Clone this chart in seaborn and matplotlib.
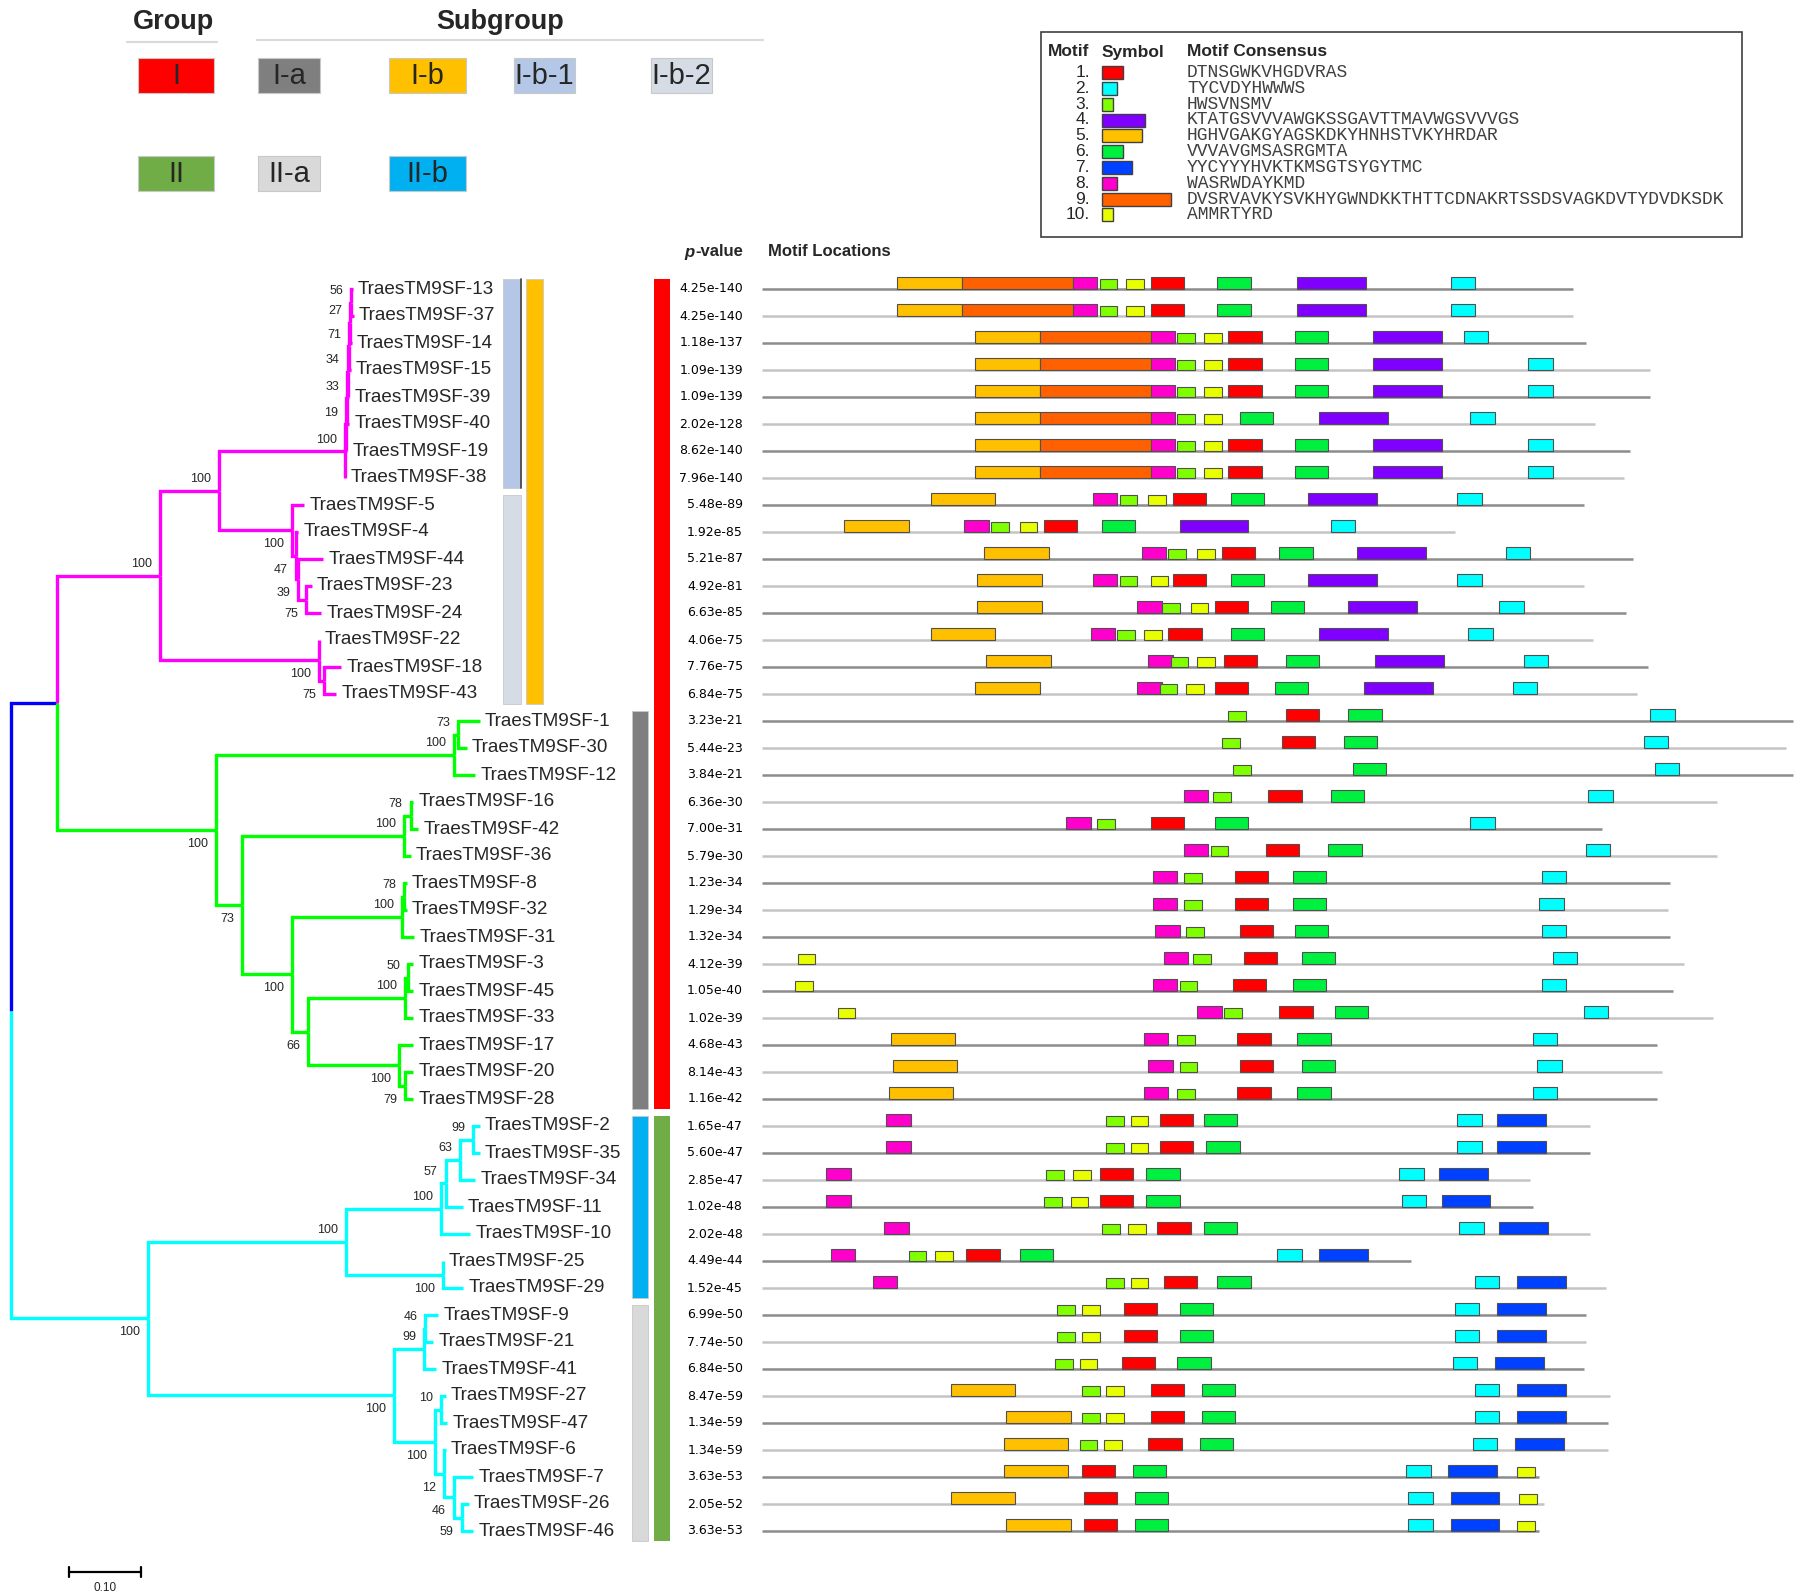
import matplotlib
matplotlib.use("Agg")
import matplotlib.pyplot as plt
from matplotlib import font_manager
from matplotlib.patches import Rectangle
import seaborn as sns

P = "TraesTM9SF-"

# tree: parent -> children (top to bottom) with branch lengths
TREE_CHILDREN = {
    "root": [("A", 0.0646), ("S", 0.1912)],
    "A": [("B", 0.1435), ("I", 0.2218)],
    "B": [("B1", 0.0830), ("B2", 0.2224)],
    "B1": [("C", 0.1755), ("D", 0.1020)],
    "C": [("C1", 0.0014), (P + "38", 0.0007)],
    "C1": [("C2", 0.0014), (P + "19", 0.0014)],
    "C2": [("C3", 0.0014), (P + "40", 0.0034)],
    "C3": [("C4", 0.0014), (P + "39", 0.0014)],
    "C4": [("C5", 0.0014), (P + "15", 0.0027)],
    "C5": [("C6", 0.0014), (P + "14", 0.0027)],
    "C6": [(P + "13", 0.0027), (P + "37", 0.0041)],
    "D": [(P + "5", 0.0170), ("E", 0.0054)],
    "E": [(P + "4", 0.0027), ("F", 0.0027)],
    "F": [(P + "44", 0.0347), ("G", 0.0109)],
    "G": [(P + "23", 0.0082), (P + "24", 0.0218)],
    "B2": [(P + "22", 0.0), ("H", 0.0068)],
    "H": [(P + "18", 0.0238), (P + "43", 0.0170)],
    "I": [("J", 0.3327), ("K", 0.0367)],
    "J": [("J1", 0.0054), (P + "12", 0.0293)],
    "J1": [(P + "1", 0.0306), (P + "30", 0.0122)],
    "K": [("L", 0.2265), ("M", 0.0701)],
    "L": [("L1", 0.0088), (P + "36", 0.0088)],
    "L1": [(P + "16", 0.0034), (P + "42", 0.0102)],
    "M": [("N", 0.1531), ("O", 0.0218)],
    "N": [("N1", 0.0034), (P + "31", 0.0170)],
    "N1": [(P + "8", 0.0034), (P + "32", 0.0034)],
    "O": [("Pn", 0.1361), ("Q", 0.1279)],
    "Pn": [("P1", 0.0041), (P + "33", 0.0109)],
    "P1": [(P + "3", 0.0068), (P + "45", 0.0068)],
    "Q": [(P + "17", 0.0190), ("Q1", 0.0082)],
    "Q1": [(P + "20", 0.0109), (P + "28", 0.0109)],
    "S": [("T", 0.2769), ("U", 0.3435)],
    "T": [("V", 0.1333), ("W", 0.1361)],
    "V": [("V1", 0.0061), (P + "10", 0.0401)],
    "V1": [("V2", 0.0204), (P + "11", 0.0238)],
    "V2": [("V3", 0.0184), (P + "34", 0.0204)],
    "V3": [(P + "2", 0.0088), (P + "35", 0.0088)],
    "W": [(P + "25", 0.0), (P + "29", 0.0272)],
    "U": [("X", 0.0422), ("Y", 0.0578)],
    "X": [("X1", 0.0020), (P + "41", 0.0170)],
    "X1": [(P + "9", 0.0184), (P + "21", 0.0116)],
    "Y": [("Z", 0.0082), ("Z2", 0.0129)],
    "Z": [(P + "27", 0.0068), (P + "47", 0.0088)],
    "Z2": [(P + "6", 0.0020), ("Z3", 0.0136)],
    "Z3": [(P + "7", 0.0272), ("Z4", 0.0109)],
    "Z4": [(P + "26", 0.0095), (P + "46", 0.0163)],
}

BOOTSTRAP = {
    "B": 100, "B1": 100, "C": 100, "C1": 19, "C2": 33, "C3": 34, "C4": 71,
    "C5": 27, "C6": 56, "D": 100, "E": 47, "F": 39, "G": 75, "B2": 100,
    "H": 75, "I": 100, "J": 100, "J1": 73, "K": 73, "L": 100, "L1": 78,
    "M": 100, "N": 100, "N1": 78, "O": 66, "Pn": 100, "P1": 50, "Q": 100,
    "Q1": 79, "S": 100, "T": 100, "V": 100, "V1": 57, "V2": 63, "V3": 99,
    "W": 100, "U": 100, "X": 99, "X1": 46, "Y": 100, "Z": 10, "Z2": 12,
    "Z3": 46, "Z4": 59,
}

CLADE_COLORS = {"A": "#0000FF", "B": "#FF00FF", "I": "#00FF00", "S": "#00FFFF"}

P_VALUES = {
    "13": 4.25e-140, "37": 4.25e-140, "14": 1.18e-137, "15": 1.09e-139,
    "39": 1.09e-139, "40": 2.02e-128, "19": 8.62e-140, "38": 7.96e-140,
    "5": 5.48e-89, "4": 1.92e-85, "44": 5.21e-87, "23": 4.92e-81,
    "24": 6.63e-85, "22": 4.06e-75, "18": 7.76e-75, "43": 6.84e-75,
    "1": 3.23e-21, "30": 5.44e-23, "12": 3.84e-21, "16": 6.36e-30,
    "42": 7.00e-31, "36": 5.79e-30, "8": 1.23e-34, "32": 1.29e-34,
    "31": 1.32e-34, "3": 4.12e-39, "45": 1.05e-40, "33": 1.02e-39,
    "17": 4.68e-43, "20": 8.14e-43, "28": 1.16e-42, "2": 1.65e-47,
    "35": 5.60e-47, "34": 2.85e-47, "11": 1.02e-48, "10": 2.02e-48,
    "25": 4.49e-44, "29": 1.52e-45, "9": 6.99e-50, "21": 7.74e-50,
    "41": 6.84e-50, "27": 8.47e-59, "47": 1.34e-59, "6": 1.34e-59,
    "7": 3.63e-53, "26": 2.05e-52, "46": 3.63e-53,
}

MOTIF_CONSENSUS = [
    "DTNSGWKVHGDVRAS", "TYCVDYHWWWS", "HWSVNSMV", "KTATGSVVVAWGKSSGAVTTMAVWGSVVVGS",
    "HGHVGAKGYAGSKDKYHNHSTVKYHRDAR", "VVVAVGMSASRGMTA", "YYCYYYHVKTKMSGTSYGYTMC",
    "WASRWDAYKMD", "DVSRVAVKYSVKHYGWNDKKTHTTCDNAKRTSSDSVAGKDVTYDVDKSDK", "AMMRTYRD",
]
MOTIF_COLORS = ["#FF0000", "#00FFFF", "#80FF00", "#8000FF", "#FFC000",
                "#00F040", "#0040FF", "#FF00CC", "#FF6000", "#E8FF00"]
MOTIF_HEIGHT = [0.46, 0.46, 0.36, 0.46, 0.46, 0.44, 0.46, 0.44, 0.46, 0.38]

# protein length (aa) and motif (number, start) per gene
SEQ_LEN = {
    "13": 365, "37": 365, "14": 371, "15": 400, "39": 400, "40": 375, "19": 391,
    "38": 388, "5": 370, "4": 312, "44": 392, "23": 370, "24": 389, "22": 374,
    "18": 399, "43": 394, "1": 464, "30": 461, "12": 464, "16": 430, "42": 378,
    "36": 430, "8": 409, "32": 408, "31": 409, "3": 415, "45": 410, "33": 428,
    "17": 403, "20": 405, "28": 403, "2": 373, "35": 373, "34": 346, "11": 347,
    "10": 373, "25": 292, "29": 380, "9": 371, "21": 371, "41": 370, "27": 382,
    "47": 381, "6": 381, "7": 350, "26": 352, "46": 350,
}
MOTIF_SITES = {
    "13": [(5, 61), (9, 90), (8, 140), (3, 152), (10, 164), (1, 175), (6, 205), (4, 241), (2, 310)],
    "37": [(5, 61), (9, 90), (8, 140), (3, 152), (10, 164), (1, 175), (6, 205), (4, 241), (2, 310)],
    "14": [(5, 96), (9, 125), (8, 175), (3, 187), (10, 199), (1, 210), (6, 240), (4, 275), (2, 316)],
    "15": [(5, 96), (9, 125), (8, 175), (3, 187), (10, 199), (1, 210), (6, 240), (4, 275), (2, 345)],
    "39": [(5, 96), (9, 125), (8, 175), (3, 187), (10, 199), (1, 210), (6, 240), (4, 275), (2, 345)],
    "40": [(5, 96), (9, 125), (8, 175), (3, 187), (10, 199), (6, 215), (4, 251), (2, 319)],
    "19": [(5, 96), (9, 125), (8, 175), (3, 187), (10, 199), (1, 210), (6, 240), (4, 275), (2, 345)],
    "38": [(5, 96), (9, 125), (8, 175), (3, 187), (10, 199), (1, 210), (6, 240), (4, 275), (2, 345)],
    "5": [(5, 76), (8, 149), (3, 161), (10, 174), (1, 185), (6, 211), (4, 246), (2, 313)],
    "4": [(5, 37), (8, 91), (3, 103), (10, 116), (1, 127), (6, 153), (4, 188), (2, 256)],
    "44": [(5, 100), (8, 171), (3, 183), (10, 196), (1, 207), (6, 233), (4, 268), (2, 335)],
    "23": [(5, 97), (8, 149), (3, 161), (10, 175), (1, 185), (6, 211), (4, 246), (2, 313)],
    "24": [(5, 97), (8, 169), (3, 180), (10, 193), (1, 204), (6, 229), (4, 264), (2, 332)],
    "22": [(5, 76), (8, 148), (3, 160), (10, 172), (1, 183), (6, 211), (4, 251), (2, 318)],
    "18": [(5, 101), (8, 174), (3, 184), (10, 196), (1, 208), (6, 236), (4, 276), (2, 343)],
    "43": [(5, 96), (8, 169), (3, 179), (10, 191), (1, 204), (6, 231), (4, 271), (2, 338)],
    "1": [(3, 210), (1, 236), (6, 264), (2, 400)],
    "30": [(3, 207), (1, 234), (6, 262), (2, 397)],
    "12": [(3, 212), (6, 266), (2, 402)],
    "16": [(8, 190), (3, 203), (1, 228), (6, 256), (2, 372)],
    "42": [(8, 137), (3, 151), (1, 175), (6, 204), (2, 319)],
    "36": [(8, 190), (3, 202), (1, 227), (6, 255), (2, 371)],
    "8": [(8, 176), (3, 190), (1, 213), (6, 239), (2, 351)],
    "32": [(8, 176), (3, 190), (1, 213), (6, 239), (2, 350)],
    "31": [(8, 177), (3, 191), (1, 215), (6, 240), (2, 351)],
    "3": [(10, 16), (8, 181), (3, 194), (1, 217), (6, 243), (2, 356)],
    "45": [(10, 15), (8, 176), (3, 188), (1, 212), (6, 239), (2, 351)],
    "33": [(10, 34), (8, 196), (3, 208), (1, 233), (6, 258), (2, 370)],
    "17": [(5, 58), (8, 172), (3, 187), (1, 214), (6, 241), (2, 347)],
    "20": [(5, 59), (8, 174), (3, 188), (1, 215), (6, 243), (2, 349)],
    "28": [(5, 57), (8, 172), (3, 187), (1, 214), (6, 241), (2, 347)],
    "2": [(8, 56), (3, 155), (10, 166), (1, 179), (6, 199), (2, 313), (7, 331)],
    "35": [(8, 56), (3, 155), (10, 166), (1, 179), (6, 200), (2, 313), (7, 331)],
    "34": [(8, 29), (3, 128), (10, 140), (1, 152), (6, 173), (2, 287), (7, 305)],
    "11": [(8, 29), (3, 127), (10, 139), (1, 152), (6, 173), (2, 288), (7, 306)],
    "10": [(8, 55), (3, 153), (10, 165), (1, 178), (6, 199), (2, 314), (7, 332)],
    "25": [(8, 31), (3, 66), (10, 78), (1, 92), (6, 116), (2, 232), (7, 251)],
    "29": [(8, 50), (3, 155), (10, 166), (1, 181), (6, 205), (2, 321), (7, 340)],
    "9": [(3, 133), (10, 144), (1, 163), (6, 188), (2, 312), (7, 331)],
    "21": [(3, 133), (10, 144), (1, 163), (6, 188), (2, 312), (7, 331)],
    "41": [(3, 132), (10, 143), (1, 162), (6, 187), (2, 311), (7, 330)],
    "27": [(5, 85), (3, 144), (10, 155), (1, 175), (6, 198), (2, 321), (7, 340)],
    "47": [(5, 110), (3, 144), (10, 155), (1, 175), (6, 198), (2, 321), (7, 340)],
    "6": [(5, 109), (3, 143), (10, 154), (1, 174), (6, 197), (2, 320), (7, 339)],
    "7": [(5, 109), (1, 144), (6, 167), (2, 290), (7, 309), (10, 340)],
    "26": [(5, 85), (1, 145), (6, 168), (2, 291), (7, 310), (10, 341)],
    "46": [(5, 110), (1, 145), (6, 168), (2, 291), (7, 310), (10, 340)],
}

# (label, colour, first gene, last gene)
SUBGROUPS = [("I-b-1", "#B4C7E7", "13", "38"), ("I-b-2", "#D6DCE5", "5", "43"),
             ("I-b", "#FFC000", "13", "43"), ("I-a", "#7F7F7F", "1", "28"),
             ("II-b", "#00B0F0", "2", "29"), ("II-a", "#D9D9D9", "9", "46")]
GROUPS = [("I", "#FF0000", "13", "28"), ("II", "#70AD47", "2", "46")]

# ---------------- layout constants (pixels) ----------------
W, H = 1797, 1593
ROW0, ROWH = 289, 27.0
TREE_X0, TREE_SCALE = 10.7, 716.0
MOTIF_X0, MOTIF_SCALE = 762.0, 2.221

sns.set_theme(style="white")
names = {f.name for f in font_manager.fontManager.ttflist}
NARROW = "Liberation Sans Narrow" if "Liberation Sans Narrow" in names else "Liberation Sans"
plt.rcParams["font.family"] = ["Liberation Sans", "DejaVu Sans"]

fig = plt.figure(figsize=(W / 100, H / 100), dpi=100)
ylim_rows = ((H - ROW0) / ROWH, -ROW0 / ROWH)

ax_px = fig.add_axes([0, 0, 1, 1])
ax_px.set_xlim(0, W)
ax_px.set_ylim(H, 0)
ax_body = fig.add_axes([0, 0, 1, 1])
ax_body.set_xlim(0, W)
ax_body.set_ylim(*ylim_rows)
ax_tree = fig.add_axes([0, 0, 1, 1])
ax_tree.set_xlim(-TREE_X0 / TREE_SCALE, (W - TREE_X0) / TREE_SCALE)
ax_tree.set_ylim(*ylim_rows)
ax_motif = fig.add_axes([0, 0, 1, 1])
ax_motif.set_xlim(-MOTIF_X0 / MOTIF_SCALE, (W - MOTIF_X0) / MOTIF_SCALE)
ax_motif.set_ylim(*ylim_rows)
for a in (ax_px, ax_body, ax_tree, ax_motif):
    a.axis("off")
    a.patch.set_alpha(0)

# ---------------- tree ----------------
pos, tips, parent_of = {}, [], {}


def layout(node, depth):
    if node not in TREE_CHILDREN:
        pos[node] = (depth, len(tips))
        tips.append(node)
        return len(tips) - 1
    ys = []
    for child, bl in TREE_CHILDREN[node]:
        parent_of[child] = node
        ys.append(layout(child, depth + bl))
    y = (ys[0] + ys[-1]) / 2
    pos[node] = (depth, y)
    return y


layout("root", 0.0)

colors = {}


def paint(node, col):
    col = CLADE_COLORS.get(node, col)
    colors[node] = col
    for child, _ in TREE_CHILDREN.get(node, []):
        paint(child, col)


paint("root", "#0000FF")

for par, kids in TREE_CHILDREN.items():
    px, py = pos[par]
    for child, _ in kids:
        cx, cy = pos[child]
        ax_tree.plot([px, px, cx], [py, cy, cy], color=colors[child], lw=2.4,
                     solid_joinstyle="miter", solid_capstyle="butt", zorder=2)

for name in tips:
    cx, cy = pos[name]
    ax_tree.text(cx + 0.0075, cy, name, ha="left", va="center", fontsize=13.6, zorder=3)

for node, val in BOOTSTRAP.items():
    cx, cy = pos[node]
    upper = TREE_CHILDREN[parent_of[node]][0][0] == node
    ty = cy - 0.42 if upper else cy + 0.52
    ax_tree.text(cx - 0.011, ty, str(val), ha="right", va="center", fontsize=9,
                 family=NARROW, zorder=3)

# scale bar
sb_x = (69 - TREE_X0) / TREE_SCALE
sb_y = (1572 - ROW0) / ROWH
ax_tree.plot([sb_x, sb_x + 0.1], [sb_y, sb_y], color="black", lw=1.6)
for xx in (sb_x, sb_x + 0.1):
    ax_tree.plot([xx, xx], [sb_y - 0.2, sb_y + 0.2], color="black", lw=1.6)
ax_tree.text(sb_x + 0.05, sb_y + 0.6, "0.10", ha="center", va="center", fontsize=8.5, family=NARROW)

row_of = {name.replace(P, ""): i for i, name in enumerate(tips)}

# ---------------- subgroup / group bars ----------------
BAR_X = {"I-b-1": (503, 521), "I-b-2": (503, 521), "I-b": (526, 543),
         "I-a": (632, 648), "II-b": (632, 648), "II-a": (632, 648)}
for lab, col, g0, g1 in SUBGROUPS:
    x0, x1 = BAR_X[lab]
    r0, r1 = row_of[g0] - 0.38, row_of[g1] + 0.38
    ax_body.add_patch(Rectangle((x0, r0), x1 - x0, r1 - r0, facecolor=col,
                                edgecolor="#C8C8C8", lw=0.6))
    if lab == "I-b-1":
        ax_body.plot([x1, x1], [r0, r1], color="#404040", lw=1.2)
for lab, col, g0, g1 in GROUPS:
    r0, r1 = row_of[g0] - 0.38, row_of[g1] + 0.38
    ax_body.add_patch(Rectangle((654, r0), 16, r1 - r0, facecolor=col,
                                edgecolor="none"))

# p-values
for g, r in row_of.items():
    ax_body.text(743, r, f"{P_VALUES[g]:.2e}", ha="right", va="center",
                 fontsize=9, family="DejaVu Sans", color="black")

# ---------------- motif locations ----------------
for g, r in row_of.items():
    lc = "#8C8C8C" if r % 2 == 0 else "#C4C4C4"
    ax_motif.plot([0, SEQ_LEN[g]], [r, r], color=lc, lw=1.8, zorder=1,
                  solid_capstyle="butt")
    for m, start in MOTIF_SITES[g]:
        h = MOTIF_HEIGHT[m - 1]
        ax_motif.add_patch(Rectangle((start, r - h), len(MOTIF_CONSENSUS[m - 1]), h,
                                     facecolor=MOTIF_COLORS[m - 1], edgecolor="#505050",
                                     lw=0.8, zorder=2))

# column headers
ax_px.text(684, 252, "p", fontsize=12, fontweight="bold", style="italic", ha="left", va="center")
ax_px.text(695, 252, "-value", fontsize=12, fontweight="bold", ha="left", va="center")
ax_px.text(768, 252, "Motif Locations", fontsize=12, fontweight="bold", ha="left", va="center")

# ---------------- group legend ----------------
ax_px.text(174, 22, "Group", fontsize=19.5, fontweight="bold", ha="center", va="center")
ax_px.text(500, 22, "Subgroup", fontsize=19.5, fontweight="bold", ha="center", va="center")
ax_px.plot([127, 217], [42, 42], color="#D9D9D9", lw=1.5)
ax_px.plot([257, 763], [40, 40], color="#D9D9D9", lw=1.5)

LEGEND_BOXES = {"I": (138, 214, 0), "I-a": (258, 320, 0), "I-b": (389, 466, 0),
                "I-b-1": (514, 575, 0), "I-b-2": (651, 712, 0),
                "II": (138, 214, 1), "II-a": (258, 320, 1), "II-b": (389, 466, 1)}
legend_colors = {lab: col for lab, col, _, _ in SUBGROUPS + GROUPS}
for lab, (x0, x1, row) in LEGEND_BOXES.items():
    y0 = 58 if row == 0 else 156
    ax_px.add_patch(Rectangle((x0, y0), x1 - x0, 35, facecolor=legend_colors[lab],
                              edgecolor="#C8C8C8", lw=0.8))
    ax_px.text((x0 + x1) / 2, y0 + 18, lab, fontsize=21, family=NARROW,
               ha="center", va="center")

# ---------------- motif legend ----------------
ax_px.add_patch(Rectangle((1041, 32), 701, 205, facecolor="none", edgecolor="#404040", lw=1.2))
ax_px.text(1048, 52, "Motif", fontsize=12.5, fontweight="bold", ha="left", va="center")
ax_px.text(1102, 52, "Symbol", fontsize=12.5, fontweight="bold", ha="left", va="center")
ax_px.text(1187, 52, "Motif Consensus", fontsize=12.5, fontweight="bold", ha="left", va="center")
for k, cons in enumerate(MOTIF_CONSENSUS):
    y = 72.6 + 15.8 * k
    ax_px.text(1090, y, f"{k + 1}.", fontsize=12.5, ha="right", va="center", family=NARROW)
    ax_px.add_patch(Rectangle((1102, y - 6.5), len(cons) * 1.38, 13,
                              facecolor=MOTIF_COLORS[k], edgecolor="#404040", lw=1))
    ax_px.text(1187, y, cons, fontsize=13, family="Liberation Mono", color="#404040",
               ha="left", va="center")

fig.savefig("out.png", dpi=100)
